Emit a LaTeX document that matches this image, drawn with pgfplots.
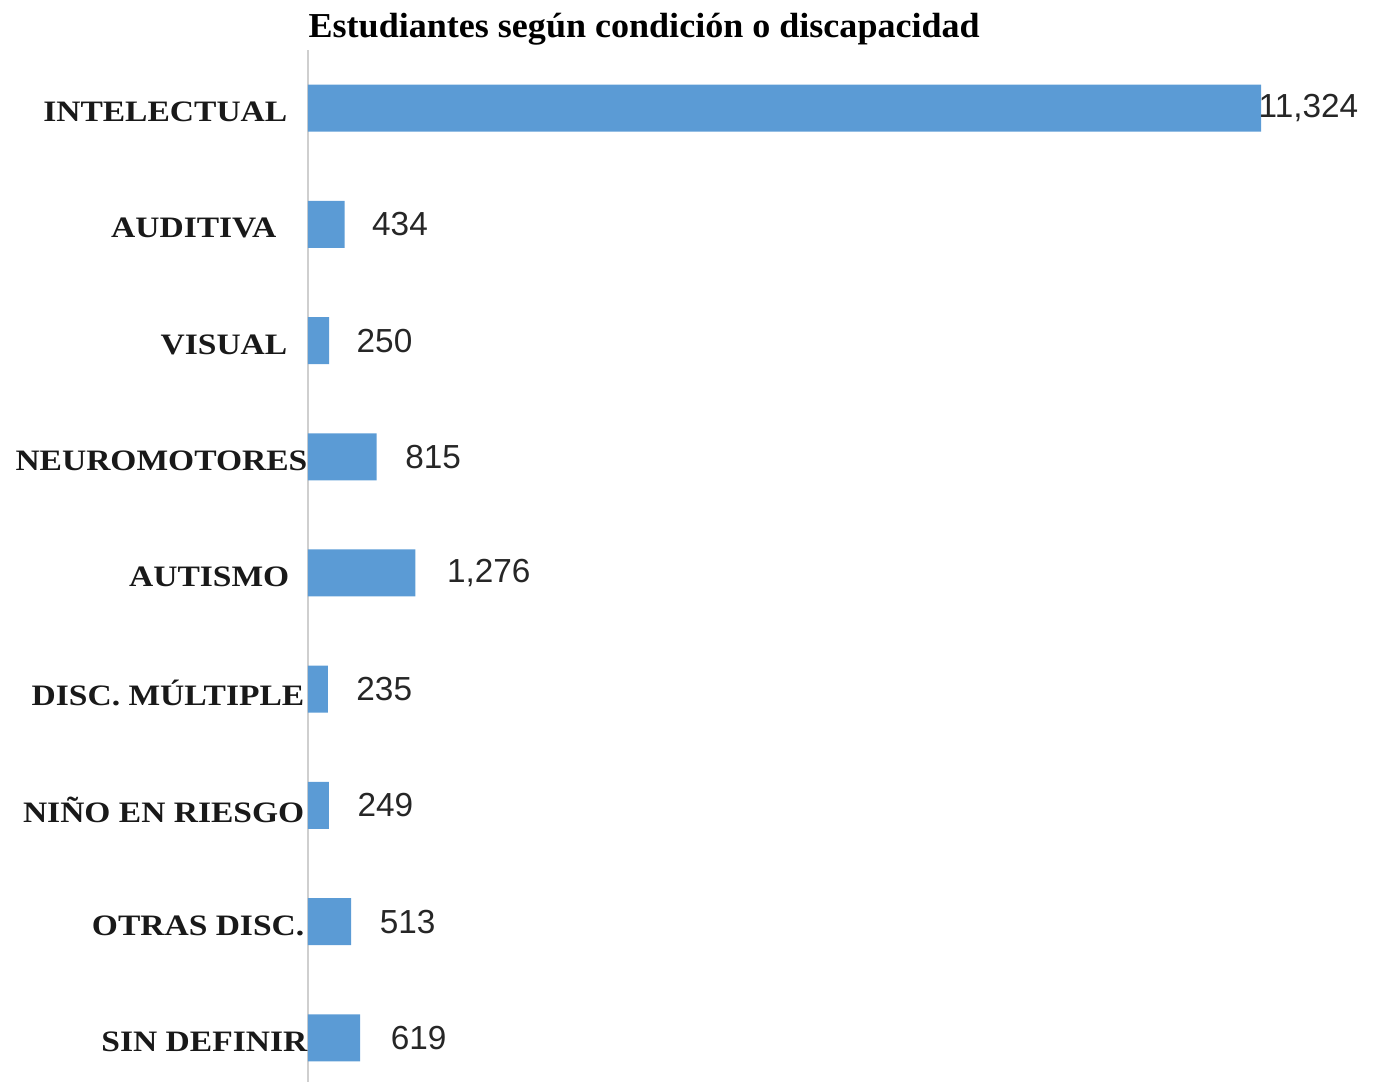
\documentclass[border=0pt]{standalone}
\usepackage{pgfplots}
\pgfplotsset{compat=1.18}
\usepackage{fontspec}
\setmainfont{Liberation Serif}
\newfontfamily\catfont[FakeStretch=1.13]{Liberation Serif Bold}
\newfontfamily\titlefont[FakeStretch=1.03]{Liberation Serif Bold}
\newfontfamily\valfont{Liberation Sans}
\definecolor{barblue}{HTML}{5B9BD5}
\definecolor{axgray}{HTML}{CFCFCF}
\pgfplotstableread{
k v s
0 11324 -0.9
1 434 8.1
2 250 8.1
3 815 8.4
4 1276 9.3
5 235 8.4
6 249 8.4
7 513 8.4
8 619 9.0
}\datatable
\begin{document}
\begin{tikzpicture}
\path[use as bounding box] (-92.4pt,0) rectangle (320.4pt,324.6pt);
\begin{axis}[
  at={(0,0)}, anchor=south west, scale only axis,
  width=320.4pt, height=309.6pt,
  xbar, bar width=14.1pt,
  xmin=0, xmax=12690, ymin=-0.5, ymax=8.38, y dir=reverse,
  axis x line=none, axis y line=left,
  y axis line style={-, draw=axgray, line width=0.7pt},
  xtick=\empty, ytick={0,...,8}, major tick length=0pt,
  yticklabels={INTELECTUAL\hspace*{6pt}, AUDITIVA\hspace*{9.3pt}, VISUAL\hspace*{6pt}, NEUROMOTORES, AUTISMO\hspace*{5.4pt}, DISC. MÚLTIPLE\hspace*{0.9pt}, NIÑO EN RIESGO\hspace*{0.9pt}, OTRAS DISC.\hspace*{0.9pt}, SIN DEFINIR},
  yticklabel style={font=\catfont\fontsize{8.9}{10}\selectfont, anchor=east, inner sep=0pt, yshift=-1.2pt, text=black!90},
  clip=false,
  point meta=x,
  /pgf/number format/assume math mode=true,
  /pgf/number format/1000 sep={,},
  nodes near coords, nodes near coords align=horizontal,
  visualization depends on={\thisrow{s} \as \myshift},
  every node near coord/.append style={font=\valfont\fontsize{10}{12}\selectfont, anchor=west, inner sep=0pt, xshift=\myshift pt, text=black!85},
]
\addplot[draw=none, fill=barblue] table[x=v, y=k] {\datatable};
\end{axis}
\node[anchor=base west, font=\titlefont\fontsize{10.5}{12}\selectfont, inner sep=0pt] at (0,313.2pt) {Estudiantes según condición o discapacidad};
\end{tikzpicture}
\end{document}
